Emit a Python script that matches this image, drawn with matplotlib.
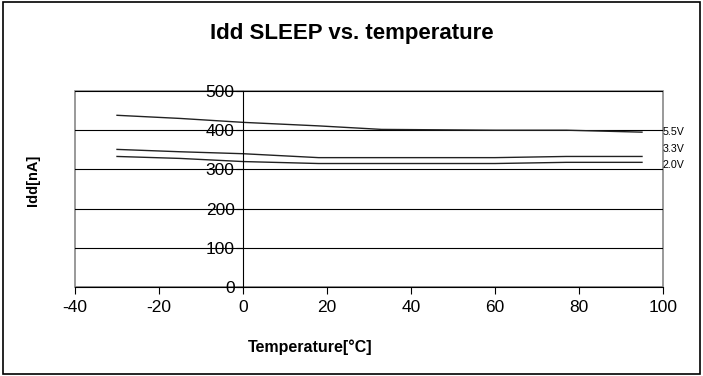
import matplotlib
matplotlib.use('Agg')
import matplotlib.pyplot as plt
import matplotlib.transforms as mtransforms

plt.rcParams['font.family'] = ['Liberation Sans', 'DejaVu Sans']
plt.rcParams['axes.unicode_minus'] = False

# temperatures and measured current per supply voltage
temps = [-30, -15, 0, 18, 33, 60, 77, 95]
idd_55 = [438, 430, 420, 411, 402, 400, 400, 395]
idd_33 = [351, 345, 340, 330, 330, 330, 333, 333]
idd_20 = [333, 328, 320, 315, 315, 315, 318, 318]
labels = ['5.5V', '3.3V', '2.0V']
label_y = [395, 352, 311]

fig = plt.figure(figsize=(7.03, 3.76), dpi=100)
ax = fig.add_axes([0.1067, 0.2367, 0.8364, 0.5213])

for vals in [idd_55, idd_33, idd_20]:
    ax.plot(temps, vals, color='#222222', lw=1.0)

ax.set_xlim(-40, 100)
ax.set_ylim(0, 500)
ax.set_xticks(range(-40, 101, 20))
ax.set_yticks(range(0, 501, 100))

ax.spines['left'].set_position(('data', 0))
ax.spines['left'].set_color('black')
ax.spines['bottom'].set_color('black')
ax.spines['top'].set_visible(False)
ax.spines['right'].set_visible(False)
ax.patch.set_edgecolor('#888888')
ax.patch.set_linewidth(1.2)

ax.yaxis.grid(True, color='black', lw=0.8)
ax.set_axisbelow(True)
ax.tick_params(axis='both', labelsize=12.5, direction='out', length=5, color='black')
ax.tick_params(axis='y', pad=1)
ax.tick_params(axis='x', pad=4)

trans = mtransforms.blended_transform_factory(ax.transAxes, ax.transData)
for lab, y in zip(labels, label_y):
    ax.text(1.0, y, lab, transform=trans, fontsize=7.7, va='center', ha='left')

fig.text(0.501, 0.912, 'Idd SLEEP vs. temperature', ha='center', va='center',
         fontsize=16, fontweight='bold')
fig.text(0.441, 0.077, 'Temperature[°C]', ha='center', va='center',
         fontsize=11.5, fontweight='bold')
fig.text(0.047, 0.521, 'Idd[nA]', ha='center', va='center', rotation=90,
         fontsize=10.5, fontweight='bold')

fig.add_artist(plt.Rectangle((0.004, 0.004), 0.992, 0.99, transform=fig.transFigure,
                             fill=False, edgecolor='black', lw=1.2))

fig.savefig('out.png', dpi=100)
